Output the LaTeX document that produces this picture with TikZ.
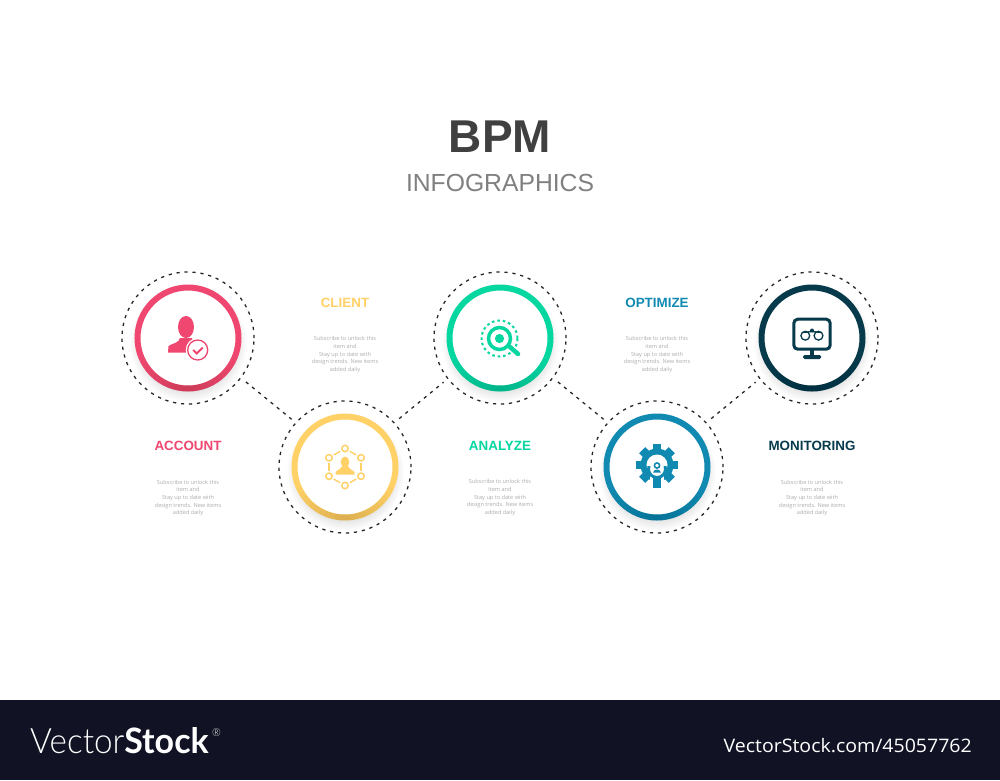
\documentclass[tikz,border=0pt]{standalone}
\usepackage{fontspec}
\setmainfont{Liberation Sans}
\newfontfamily\blurbfont{Open Sans}
\newfontfamily\logolight[FakeStretch=0.95]{Lato Light}
\newfontfamily\logobold[FakeStretch=0.97]{Lato}
\newfontfamily\urlfont[FakeStretch=1.05]{Open Sans}
\usetikzlibrary{positioning, calc}

\definecolor{accountcol}{HTML}{EF476F}
\definecolor{clientcol}{HTML}{FFD166}
\definecolor{analyzecol}{HTML}{06D6A0}
\definecolor{optimizecol}{HTML}{118AB2}
\definecolor{monitorcol}{HTML}{073B4C}
\definecolor{footercol}{HTML}{111325}

\pgfdeclareradialshading{ringshadow}{\pgfpoint{0bp}{0bp}}{%
  color(0bp)=(black!13); color(19bp)=(black!13); color(25bp)=(white); color(50bp)=(white)}

\newcommand{\blurbtext}{Subscribe to unlock this\\item and\\Stay up to date with\\design trends. New items\\added daily}
% soft shadow, ring with darker bottom edge, white inside
\newcommand{\stepring}[2]{%
  \shade[shading=ringshadow] ($(#1)+(0,5)$) circle [radius=59];
  \fill[white] (#1) circle [radius=50];
  \draw[#2, line width=6pt] (#1) circle [radius=50.5];
  \foreach \w in {6,12,...,66}{
      \draw[black, opacity=.012, line width=6pt] (#1) ++(90+\w:50.5) arc [start angle=90+\w, end angle=90-\w, radius=50.5];
  }
}

\begin{document}
\begin{tikzpicture}[
    x=1pt, y=-1pt,
    node distance=10pt,
    dash circle/.style={circle, draw=black!85, line width=1.3pt, dash pattern=on 3.2pt off 4.8pt, minimum size=132pt, inner sep=0pt},
    link/.style={draw=black!85, line width=1.3pt, dash pattern=on 3.2pt off 4.8pt, shorten >=5pt, shorten <=6pt},
    main title/.style={font=\bfseries\fontsize{46}{46}\selectfont, text=black!75, inner sep=0pt},
    sub title/.style={font=\fontsize{24.7}{25}\selectfont, text=black!50, inner sep=0pt},
    step label/.style={font=\bfseries\fontsize{13.4}{14}\selectfont, inner sep=0pt},
    blurb/.style={font=\blurbfont\fontsize{5.6}{7.7}\selectfont, text=black!32, align=center, inner sep=0pt}
]
\useasboundingbox (0,0) rectangle (1000,780);
\fill[white] (0,0) rectangle (1000,780);

% Title
\node[main title] (Title) at (500,137) {BPM};
\node[sub title, below=21pt of Title] (Subtitle) {INFOGRAPHICS};

% Dashed outer circles
\node[dash circle] (Account) at (188,338) {};
\node[dash circle] (Client) at (345,467) {};
\node[dash circle] (Analyze) at (500,338) {};
\node[dash circle] (Optimize) at (657,467) {};
\node[dash circle] (Monitoring) at (812,338) {};

% Links between circles
\draw[link] (Account.-37) -- (Client.138);
\draw[link] (Client.42) -- (Analyze.218);
\draw[link] (Analyze.-37) -- (Optimize.138);
\draw[link] (Optimize.42) -- (Monitoring.218);

% Rings
\stepring{Account}{accountcol}
\stepring{Client}{clientcol}
\stepring{Analyze}{analyzecol}
\stepring{Optimize}{optimizecol}
\stepring{Monitoring}{monitorcol}

% Labels and their texts
\node[step label, text=accountcol, below=36pt of Account] (AccountLabel) {ACCOUNT};
\node[blurb, below=29pt of AccountLabel] (AccountText) {\blurbtext};
\node[step label, text=clientcol, above=93pt of Client] (ClientLabel) {CLIENT};
\node[blurb, below=29pt of ClientLabel] (ClientText) {\blurbtext};
\node[step label, text=analyzecol, below=36pt of Analyze] (AnalyzeLabel) {ANALYZE};
\node[blurb, below=29pt of AnalyzeLabel] (AnalyzeText) {\blurbtext};
\node[step label, text=optimizecol, above=93pt of Optimize] (OptimizeLabel) {OPTIMIZE};
\node[blurb, below=29pt of OptimizeLabel] (OptimizeText) {\blurbtext};
\node[step label, text=monitorcol, below=36pt of Monitoring] (MonitoringLabel) {MONITORING};
\node[blurb, below=29pt of MonitoringLabel] (MonitoringText) {\blurbtext};

% Account icon
\begin{scope}[shift={(Account)}]
    \fill[accountcol] (-2,-11) ellipse [x radius=8, y radius=11];
    \fill[accountcol] (-20,14.7) -- (-19.5,8) .. controls (-15,5) and (-9,5) .. (-8,0) -- (4,0) .. controls (5,5) and (10,5) .. (14,8) -- (14,14.7) -- cycle;
    \fill[white] (9.7,12) circle [radius=12];
    \draw[accountcol, line width=1.3pt] (9.7,12) circle [radius=10];
    \draw[accountcol, line width=2pt] (5.2,12) -- (8.7,15.5) -- (14.7,9.5);
\end{scope}

% Client icon
\begin{scope}[shift={(Client)}]
    \foreach \ang in {30,90,150,210,270,330}{
        \draw[clientcol, line width=1.5pt] (\ang:18.5) circle [radius=3.2];
        \draw[clientcol, line width=1.4pt, shorten >=5.5pt, shorten <=5.5pt] (\ang:18.5) -- (\ang+60:18.5);
    }
    \fill[clientcol] (0,-5) ellipse [x radius=4.3, y radius=5.5];
    \fill[clientcol] (-9.5,7.5) -- (-9.5,5) .. controls (-7,2) and (-4,2.5) .. (-2.5,-1) -- (2.5,-1) .. controls (4,2.5) and (7,2) .. (9.5,5) -- (9.5,7.5) -- cycle;
\end{scope}

% Analyze icon
\begin{scope}[shift={(Analyze)}]
    \draw[analyzecol, line width=2pt, dash pattern=on 2.6pt off 2.9pt] (-0.5,0.5) circle [radius=18];
    \draw[analyzecol, line width=3.5pt] (-0.5,0.5) circle [radius=11];
    \fill[analyzecol] (-0.5,0.5) circle [radius=4.6];
    \draw[analyzecol, line width=4.5pt, line cap=round] (10,9) -- (18,16);
\end{scope}

% Optimize icon
\begin{scope}[shift={(Optimize)}]
    \fill[optimizecol] (0,-2) circle [radius=16.5];
    \foreach \ang in {0,45,...,315}{
        \fill[optimizecol, shift={(0,-2)}, rotate=\ang] (12,-4.3) rectangle (21,4.3);
    }
    \fill[white] (0,-2) circle [radius=10.5];
    \fill[white] (-7,6) rectangle (7,24);
    \draw[optimizecol, line width=3pt] (0,2) ++(200:8.5) arc [start angle=200, end angle=-20, radius=8.5];
    \fill[optimizecol] (-3.8,9) rectangle (3.8,21);
    \draw[optimizecol, line width=1.6pt] (0,-1.5) circle [radius=2.6];
    \fill[optimizecol] (-4,5.5) .. controls (-3,1.5) and (3,1.5) .. (4,5.5) -- cycle;
\end{scope}

% Monitoring icon
\begin{scope}[shift={(Monitoring)}]
    \draw[monitorcol, line width=3pt, rounded corners=4pt] (-18.2,-18.8) rectangle (18.2,11.2);
    \fill[monitorcol] (-2,12) rectangle (2,18);
    \fill[monitorcol, rounded corners=1.5pt] (-9,17) rectangle (9,21);
    \draw[monitorcol, line width=1.3pt] (-6.7,-2.3) circle [radius=4.4];
    \draw[monitorcol, line width=1.3pt] (6.5,-2.3) circle [radius=4.4];
    \draw[monitorcol, line width=1.3pt] (-9,-5.5) -- (0,-6.5) -- (9,-5.5);
    \fill[monitorcol] (0,-7.5) circle [radius=2];
\end{scope}

% Footer band
\fill[footercol] (0,700) rectangle (1000,780);
\node[anchor=west, text=white, inner sep=0pt] (Logo) at (30,741) {\fontsize{35}{36}\selectfont\logolight Vector\logobold\bfseries Stock};
\node[anchor=north west, text=white, inner sep=0pt, font=\logolight\fontsize{11}{11}\selectfont, xshift=3pt, yshift=-1pt] (LogoMark) at (Logo.north east) {®};
\node[anchor=east, text=white, inner sep=0pt, font=\urlfont\fontsize{18.6}{18.6}\selectfont] (Url) at (972,746) {VectorStock.com/45057762};
\end{tikzpicture}
\end{document}
